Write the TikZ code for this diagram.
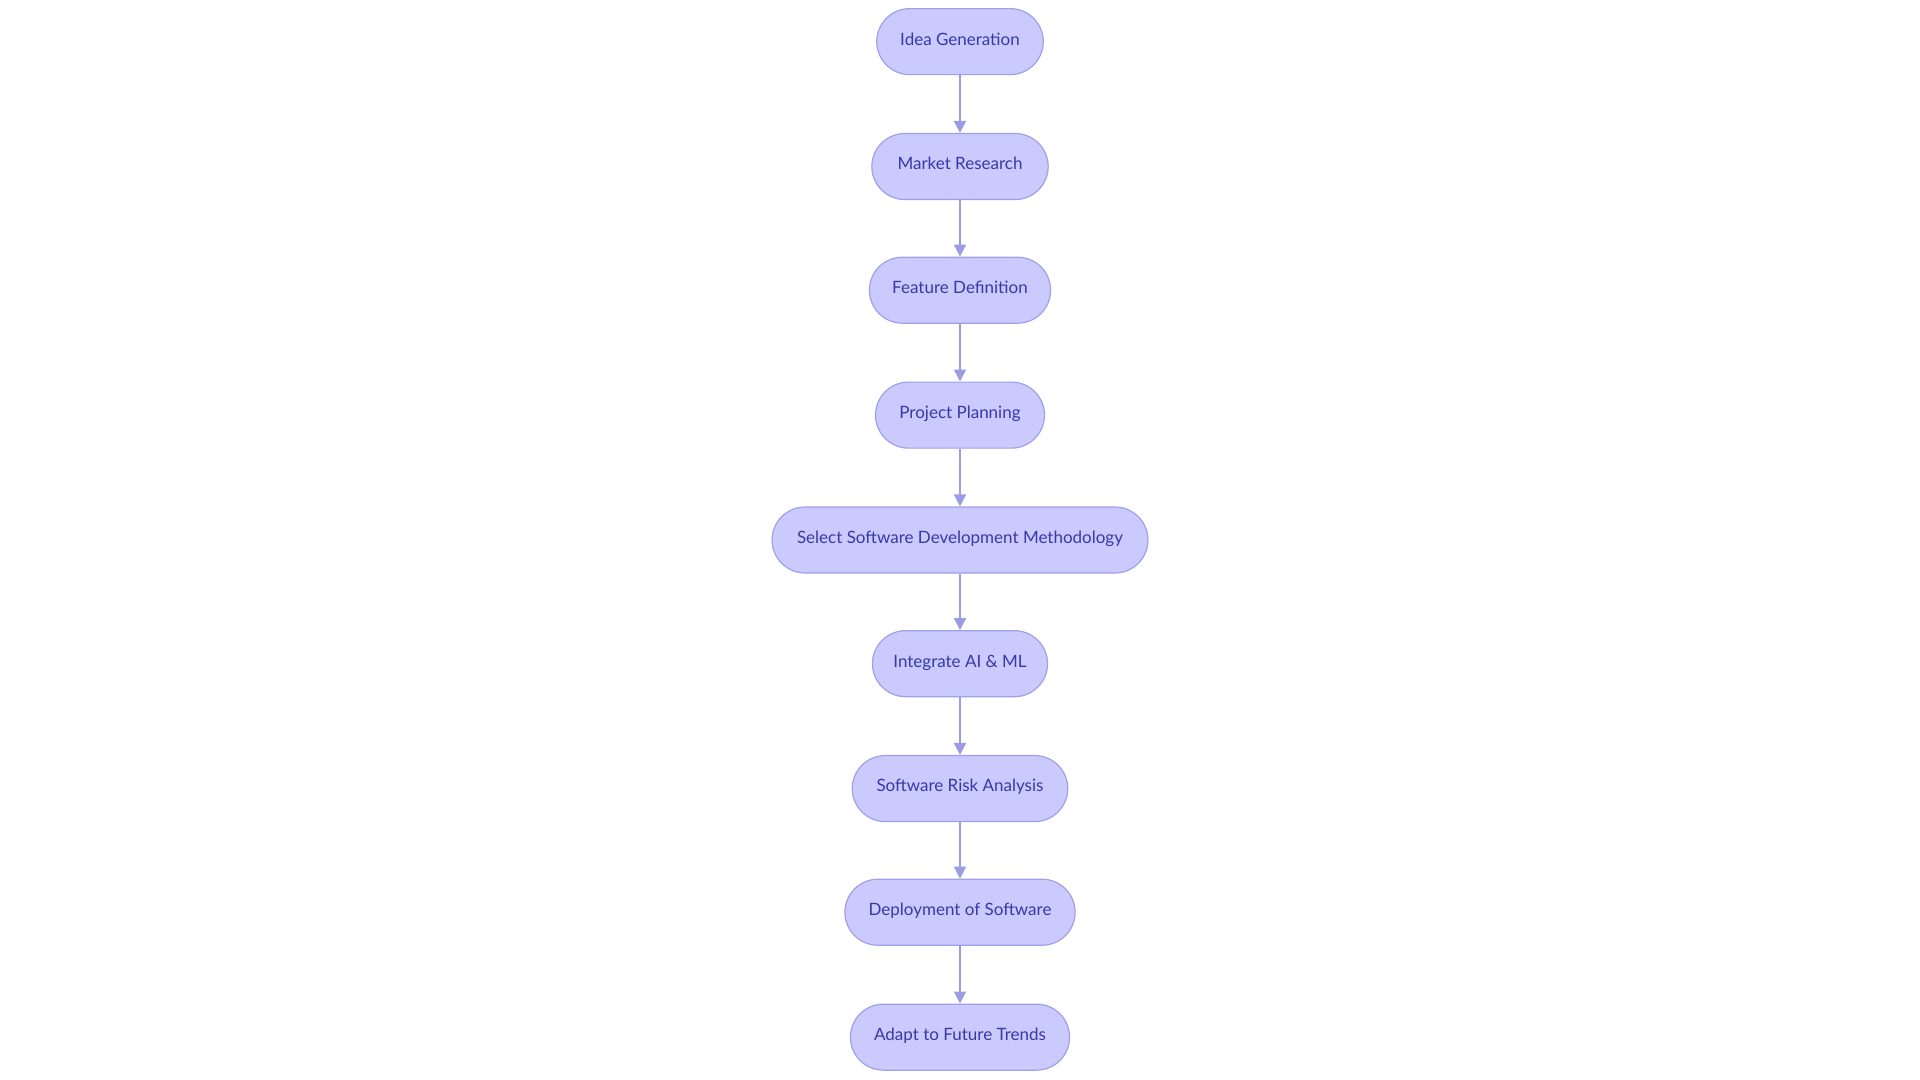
\documentclass[tikz,border=0pt]{standalone}
\usepackage{fontspec}
\setmainfont{Lato}
\usetikzlibrary{arrows.meta}
\definecolor{nfill}{HTML}{CACAFE}
\definecolor{nline}{HTML}{A0A0E8}
\definecolor{ntext}{HTML}{3838A8}
\definecolor{eline}{HTML}{9C9CE4}
\tikzset{
  stepbox/.style={draw=nline, fill=nfill, text=ntext, line width=0.6pt, rounded corners=16.5pt, minimum height=33pt, font=\fontsize{8.5}{10}\selectfont, inner sep=0pt, text height=5.4pt, text depth=2pt},
  flow/.style={draw=eline, line width=0.9pt, -{Triangle[length=6pt,width=6pt]}}
}
\begin{document}
\begin{tikzpicture}[x=0.6122pt,y=-0.6122pt]
\useasboundingbox (0,0) rectangle (1568,882);
\node[stepbox, minimum width=136*0.6122pt] (n1) at (784,34) {Idea Generation};
\node[stepbox, minimum width=144*0.6122pt] (n2) at (784,136) {Market Research};
\node[stepbox, minimum width=148*0.6122pt] (n3) at (784,237) {Feature Definition};
\node[stepbox, minimum width=138*0.6122pt] (n4) at (784,339) {Project Planning};
\node[stepbox, minimum width=307*0.6122pt] (n5) at (784,441) {Select Software Development Methodology};
\node[stepbox, minimum width=143*0.6122pt] (n6) at (784,542) {Integrate AI \& ML};
\node[stepbox, minimum width=176*0.6122pt] (n7) at (784,644) {Software Risk Analysis};
\node[stepbox, minimum width=188*0.6122pt] (n8) at (784,745) {Deployment of Software};
\node[stepbox, minimum width=179*0.6122pt] (n9) at (784,847) {Adapt to Future Trends};
\foreach \a/\b in {n1/n2,n2/n3,n3/n4,n4/n5,n5/n6,n6/n7,n7/n8,n8/n9}
  \draw[flow] (\a) -- (\b);
\end{tikzpicture}
\end{document}
